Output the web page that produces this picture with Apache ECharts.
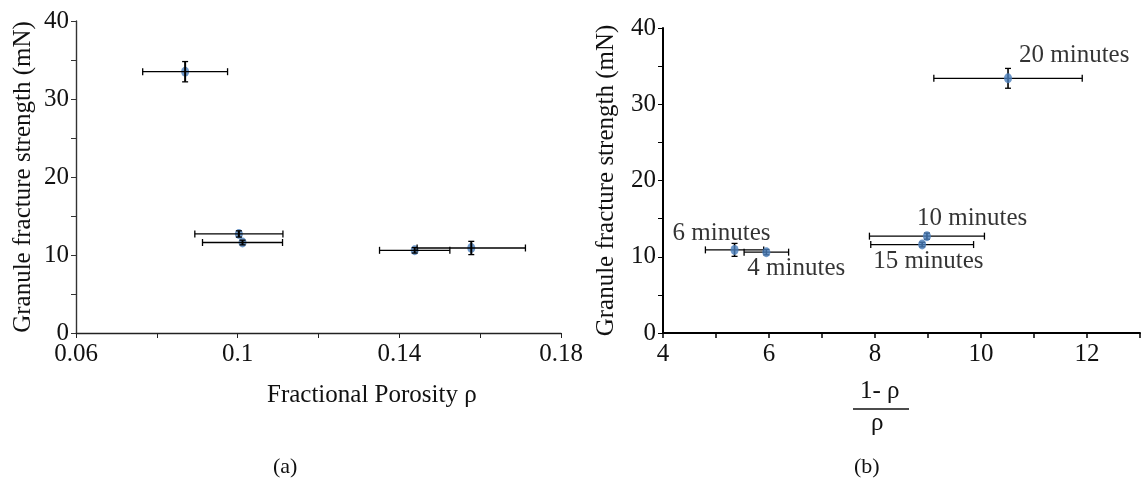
<!DOCTYPE html>
<html>
<head>
<meta charset="utf-8">
<script src="https://cdn.jsdelivr.net/npm/echarts@6/dist/echarts.min.js"></script>
<style>
html,body{margin:0;padding:0;background:#fff;}
#chart{width:1144px;height:483px;}
</style>
</head>
<body>
<div id="chart"></div>
<script>
// ---- Data ----
// Panel (a): strength vs fractional porosity
const porosity      = [0.0870, 0.1003, 0.1012, 0.1438, 0.1578];
const porosityErr   = [0.0105, 0.0109, 0.0099, 0.0087, 0.0134];
const strengthA     = [33.5, 12.7, 11.6, 10.6, 10.9];
const strengthErrA  = [1.3, 0.4, 0.3, 0.35, 0.85];

// Panel (b): strength vs (1-rho)/rho
const granTimes     = ['20 minutes', '10 minutes', '15 minutes', '6 minutes', '4 minutes'];
const ratio         = [10.51, 8.98, 8.89, 5.35, 5.95];
const ratioErr      = [1.40, 1.085, 0.97, 0.55, 0.42];
const strengthB     = [33.4, 12.7, 11.6, 10.9, 10.6];
const strengthErrB  = [1.3, 0.4, 0.3, 0.85, 0.35];

// Axis tick labels
const xTicksA = [0.06, 0.1, 0.14, 0.18];
const xTicksB = [4, 6, 8, 10, 12];
const yTicks  = [0, 10, 20, 30, 40];

// ---- Layout / style (not data) ----
const FONT = 'Liberation Serif';
const SYM = [8, 10];
const labelOffsetsB = [[11, -23], [-10, -18], [-49, 17], [-62, -16], [-19, 16]];

function errRender(lineColor, hWidth, vWidth) {
  return function (params, api) {
    const x = api.value(0), y = api.value(1), xe = api.value(2), ye = api.value(3);
    const l = api.coord([x - xe, y]), r = api.coord([x + xe, y]);
    const b = api.coord([x, y - ye]), t = api.coord([x, y + ye]);
    const hs = { stroke: lineColor, lineWidth: hWidth };
    const vs = { stroke: lineColor, lineWidth: vWidth };
    const hc = 3.5, vc = 3;
    return {
      type: 'group',
      children: [
        { type: 'line', shape: { x1: l[0], y1: l[1], x2: r[0], y2: r[1] }, style: hs },
        { type: 'line', shape: { x1: l[0], y1: l[1] - hc, x2: l[0], y2: l[1] + hc }, style: hs },
        { type: 'line', shape: { x1: r[0], y1: r[1] - hc, x2: r[0], y2: r[1] + hc }, style: hs },
        { type: 'line', shape: { x1: b[0], y1: b[1], x2: t[0], y2: t[1] }, style: vs },
        { type: 'line', shape: { x1: b[0] - vc, y1: b[1], x2: b[0] + vc, y2: b[1] }, style: hs },
        { type: 'line', shape: { x1: t[0] - vc, y1: t[1], x2: t[0] + vc, y2: t[1] }, style: hs }
      ]
    };
  };
}

function near(v, list) { return list.some(t => Math.abs(t - v) < 1e-6); }

const axisText = { fontFamily: FONT, fontSize: 25, color: '#111' };

function yAxisCfg(gridIndex, gap, lineW, lineC) {
  return {
    gridIndex: gridIndex, type: 'value', min: 0, max: 40, interval: 5,
    name: 'Granule fracture strength (mN)', nameLocation: 'middle', nameGap: gap,
    nameTextStyle: { fontFamily: FONT, fontSize: 25, color: '#111' },
    axisLine: { show: true, lineStyle: { color: lineC, width: lineW } },
    axisTick: { show: true, length: 5, lineStyle: { color: lineC, width: 1 } },
    splitLine: { show: false },
    axisLabel: Object.assign({ margin: 7, formatter: v => near(v, yTicks) ? String(Math.round(v)) : '' }, axisText)
  };
}

const option = {
  animation: false,
  backgroundColor: '#fff',
  grid: [
    { left: 76, top: 21, width: 485, height: 312 },
    { left: 663, top: 28, width: 477, height: 305 }
  ],
  xAxis: [
    {
      gridIndex: 0, type: 'value', min: 0.06, max: 0.18, interval: 0.02,
      axisLine: { onZero: false, lineStyle: { color: '#222', width: 1.4 } },
      axisTick: { length: 5, lineStyle: { color: '#222' } },
      splitLine: { show: false },
      axisLabel: Object.assign({ margin: 9, formatter: v => near(v, xTicksA) ? String(parseFloat(v.toFixed(2))) : '' }, axisText)
    },
    {
      gridIndex: 1, type: 'value', min: 4, max: 13, interval: 1,
      axisLine: { onZero: false, lineStyle: { color: '#000', width: 2 } },
      axisTick: { length: 5, lineStyle: { color: '#000', width: 1.5 } },
      splitLine: { show: false },
      axisLabel: Object.assign({ margin: 9, formatter: v => near(v, xTicksB) ? String(Math.round(v)) : '' }, axisText)
    }
  ],
  yAxis: [
    yAxisCfg(0, 40, 1.4, '#333'),
    yAxisCfg(1, 44, 2, '#000')
  ],
  graphic: [
    { type: 'text', left: 267, top: 383, style: { text: 'Fractional Porosity ρ', fontFamily: FONT, fontSize: 25, fill: '#111' } },
    { type: 'text', left: 860, top: 379, style: { text: '1- ρ', fontFamily: FONT, fontSize: 25, fill: '#111' } },
    { type: 'line', shape: { x1: 853, y1: 409, x2: 909, y2: 409 }, style: { stroke: '#111', lineWidth: 1.5 } },
    { type: 'text', left: 871, top: 411, style: { text: 'ρ', fontFamily: FONT, fontSize: 25, fill: '#111' } },
    { type: 'text', left: 273, top: 456, style: { text: '(a)', fontFamily: FONT, fontSize: 22, fill: '#111' } },
    { type: 'text', left: 854, top: 456, style: { text: '(b)', fontFamily: FONT, fontSize: 22, fill: '#111' } }
  ],
  series: [
    {
      type: 'scatter', xAxisIndex: 0, yAxisIndex: 0, z: 2,
      symbol: 'circle', symbolSize: SYM,
      itemStyle: { color: '#4a7ebb' },
      data: porosity.map((x, i) => [x, strengthA[i]])
    },
    {
      type: 'custom', xAxisIndex: 0, yAxisIndex: 0, z: 3,
      renderItem: errRender('#000', 1.3, 2),
      encode: { x: 0, y: 1 },
      data: porosity.map((x, i) => [x, strengthA[i], porosityErr[i], strengthErrA[i]])
    },
    {
      type: 'custom', xAxisIndex: 1, yAxisIndex: 1, z: 2,
      renderItem: errRender('#000', 1.3, 1.6),
      encode: { x: 0, y: 1 },
      data: ratio.map((x, i) => [x, strengthB[i], ratioErr[i], strengthErrB[i]])
    },
    {
      type: 'scatter', xAxisIndex: 1, yAxisIndex: 1, z: 3,
      symbol: 'circle', symbolSize: SYM,
      itemStyle: { color: '#4a7ebb' },
      data: ratio.map((x, i) => ({
        value: [x, strengthB[i]],
        label: {
          show: true,
          position: [SYM[0] / 2 + labelOffsetsB[i][0], SYM[1] / 2 + labelOffsetsB[i][1]],
          align: 'left', verticalAlign: 'middle',
          formatter: granTimes[i],
          fontFamily: FONT, fontSize: 25, color: '#000',
          textBorderWidth: 0
        }
      }))
    }
  ]
};

const chart = echarts.init(document.getElementById('chart'), null, { renderer: 'canvas' });
chart.setOption(option);
</script>
</body>
</html>
